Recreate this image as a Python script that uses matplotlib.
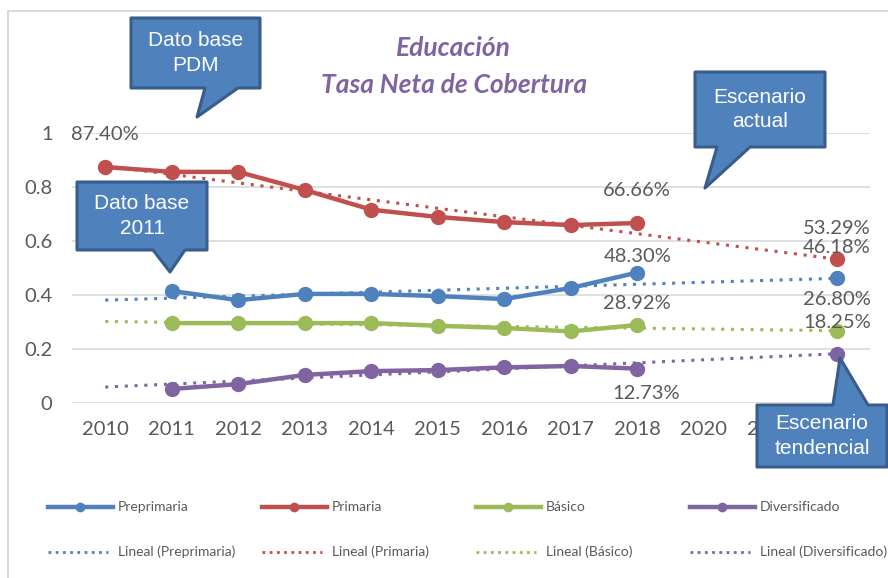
import matplotlib
matplotlib.use("Agg")
import matplotlib.pyplot as plt
from matplotlib.patches import Polygon
from matplotlib.lines import Line2D

W, H = 888, 578

years = ["2010", "2011", "2012", "2013", "2014", "2015", "2016", "2017", "2018", "2020", "2024", "2032"]

# observed values 2010-2018 (None = no data)
preprimaria = [None, 0.415, 0.381, 0.404, 0.404, 0.396, 0.385, 0.426, 0.483]
primaria = [0.874, 0.856, 0.856, 0.789, 0.716, 0.689, 0.670, 0.659, 0.6666]
basico = [None, 0.296, 0.296, 0.296, 0.296, 0.286, 0.278, 0.265, 0.2892]
diversificado = [None, 0.052, 0.070, 0.104, 0.118, 0.122, 0.132, 0.137, 0.1273]

# escenario tendencial (last category)
final_vals = [0.4618, 0.5329, 0.268, 0.1825]
# linear trend line ends (2010 and last category)
trend_start = [0.381, 0.878, 0.302, 0.059]
trend_end = final_vals

names = ["Preprimaria", "Primaria", "Básico", "Diversificado"]
colors = ["#4F81BD", "#C0504D", "#9BBB59", "#8064A2"]
series = [preprimaria, primaria, basico, diversificado]

txt_col = "#595959"
font = ["Lato", "DejaVu Sans"]
narrow = ["Liberation Sans Narrow", "Liberation Sans", "DejaVu Sans"]

fig = plt.figure(figsize=(W / 100, H / 100), dpi=100)
ax = fig.add_axes([72 / W, 1 - 403 / H, 798 / W, 270 / H])
ax.set_xlim(-0.5, 11.5)
ax.set_ylim(0, 1)

for s in ax.spines.values():
    s.set_visible(False)
ax.set_yticks([0, 0.2, 0.4, 0.6, 0.8, 1])
ax.set_yticklabels(["0", "0.2", "0.4", "0.6", "0.8", "1"])
ax.set_xticks(range(len(years)))
ax.set_xticklabels(years)
ax.tick_params(length=0, labelsize=14.5, labelcolor=txt_col)
ax.tick_params(axis="y", pad=14)
ax.tick_params(axis="x", pad=13)
for lab in ax.get_xticklabels() + ax.get_yticklabels():
    lab.set_family(font)
ax.grid(axis="y", color="#D9D9D9", lw=1.2)
ax.set_axisbelow(True)

last = len(years) - 1
for i in range(4):
    c = colors[i]
    xs = [k for k, v in enumerate(series[i]) if v is not None]
    ys = [v for v in series[i] if v is not None]
    ax.plot([0, last], [trend_start[i], trend_end[i]], color=c, lw=2.2,
            ls=(0, (1, 2.2)), zorder=2)
    ax.plot(xs, ys, color=c, lw=3.2, marker="o", ms=10, zorder=3)
    ax.plot([last], [final_vals[i]], color=c, marker="o", ms=10, ls="none", zorder=3)

def label(x, y, v, dy, dx=0):
    ax.annotate(f"{v:.2%}", (x, y), xytext=(dx * 0.72, dy * 0.72), textcoords="offset points",
                ha="center", va="center", fontsize=14.5, color=txt_col, family=font,
                annotation_clip=False, zorder=6)

label(0, primaria[0], primaria[0], 33)
label(8, primaria[8], primaria[8], 33)
label(8, preprimaria[8], preprimaria[8], 16)
label(8, basico[8], basico[8], 21)
label(8, diversificado[8], diversificado[8], -25, 9)
for i in range(4):
    label(last, final_vals[i], final_vals[i], 31)

# title
fig.text(453 / W, 1 - 48 / H, "Educación", ha="center", va="center", fontsize=19,
         color="#8064A2", style="italic", weight="bold", family=font)
fig.text(454 / W, 1 - 85 / H, "Tasa Neta de Cobertura", ha="center", va="center", fontsize=19,
         color="#8064A2", style="italic", weight="bold", family=font)

# callouts (pixel coords, top-left origin)
def callout(box, base, tip, text, up=False):
    x0, x1, y0, y1 = box
    b0, b1 = base
    if up:
        pts = [(x0, y0), (b0, y0), tip, (b1, y0), (x1, y0), (x1, y1), (x0, y1)]
    else:
        pts = [(x0, y0), (x1, y0), (x1, y1), (b1, y1), tip, (b0, y1), (x0, y1)]
    pts = [(px / W, 1 - py / H) for px, py in pts]
    fig.add_artist(Polygon(pts, closed=True, facecolor="#4F81BD", edgecolor="#385D8A",
                           lw=2.2, joinstyle="round", transform=fig.transFigure, zorder=10))
    fig.text((x0 + x1) / 2 / W, 1 - (y0 + y1) / 2 / H, text, ha="center", va="center",
             color="white", fontsize=15, family=narrow, linespacing=1.35, zorder=11)

callout((131, 260, 18, 88), (205, 238), (197, 117), "Dato base\nPDM")
callout((77, 207, 182, 250), (153, 185), (170, 272), "Dato base\n2011")
callout((695, 825, 72, 147), (717, 750), (705, 188), "Escenario\nactual")
callout((757, 887, 405, 467), (833, 868), (840, 358), "Escenario\ntendencial", up=True)

# chart border
fig.add_artist(Line2D([8 / W, 8 / W], [1 - 11 / H, 0], color="#D9D9D9", lw=1.5,
                      transform=fig.transFigure))
fig.add_artist(Line2D([8 / W, 1], [1 - 11 / H, 1 - 11 / H], color="#D9D9D9", lw=1.5,
                      transform=fig.transFigure))

# legend, drawn by hand in two rows
for i in range(4):
    x0 = 48 + 214 * i
    y1 = 1 - 507 / H
    y2 = 1 - 552 / H
    fig.add_artist(Line2D([x0 / W, (x0 + 32) / W, (x0 + 65) / W], [y1, y1, y1], color=colors[i],
                          lw=3.2, marker="o", ms=6, markevery=[1], transform=fig.transFigure))
    fig.text((x0 + 70) / W, y1, names[i], ha="left", va="center", fontsize=10,
             color=txt_col, family=font)
    fig.add_artist(Line2D([x0 / W, (x0 + 60) / W], [y2, y2], color=colors[i], lw=2,
                          ls=(0, (1, 1.6)), transform=fig.transFigure))
    fig.text((x0 + 70) / W, y2, f"Lineal ({names[i]})", ha="left", va="center", fontsize=10,
             color=txt_col, family=font)

fig.savefig("out.png", dpi=100)
